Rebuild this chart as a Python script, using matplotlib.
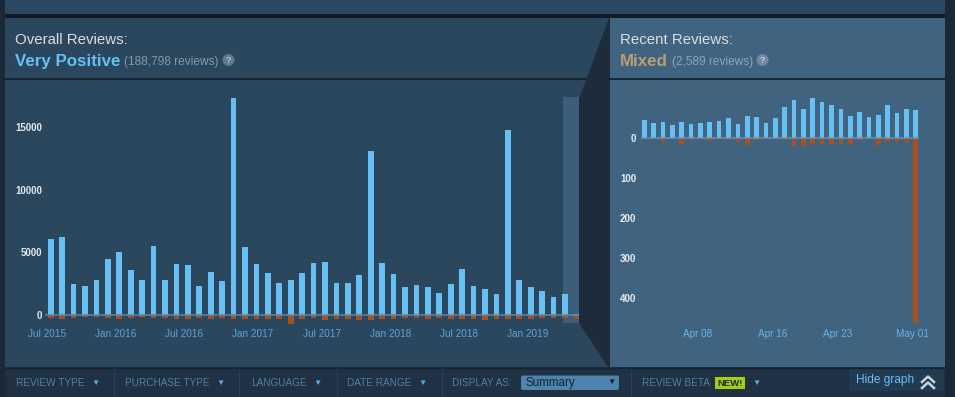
import matplotlib
matplotlib.use("Agg")
import matplotlib.pyplot as plt
from matplotlib.patches import Rectangle, Polygon, Circle, FancyBboxPatch

plt.rcParams['font.family'] = ['Liberation Sans', 'DejaVu Sans']

W, H = 955, 397

# ---- data ----
month_ticks = [0, 6, 12, 18, 24, 30, 36, 42]
month_labels = ['Jul 2015', 'Jan 2016', 'Jul 2016', 'Jan 2017',
                'Jul 2017', 'Jan 2018', 'Jul 2018', 'Jan 2019']
overall_pos = [6040, 6200, 2450, 2340, 2790, 4470, 5000, 3560, 2790, 5530,
               2790, 4070, 3960, 2290, 3430, 2710, 17280, 5450, 4040, 3320,
               2580, 2790, 3320, 4120, 4200, 2530, 2580, 3190, 13100, 4120,
               3270, 2210, 2370, 2260, 1780, 2450, 3690, 2290, 2070, 1650,
               14730, 2790, 2260, 1890, 1440, 1680, 60]
overall_neg = [266, 346, 213, 186, 186, 240, 293, 213, 186, 240,
               240, 320, 320, 213, 293, 240, 293, 346, 346, 320,
               293, 720, 320, 266, 400, 320, 320, 400, 400, 346,
               293, 266, 266, 320, 266, 293, 346, 320, 400, 293,
               293, 320, 293, 213, 266, 266, 300]
overall_yticks = [0, 5000, 10000, 15000]

day_ticks = [6, 14, 21, 29]
day_labels = ['Apr 08', 'Apr 16', 'Apr 23', 'May 01']
recent_pos = [44, 36, 38, 31, 38, 33, 37, 39, 41, 48, 33, 54, 50, 35, 48,
              75, 93, 72, 98, 89, 82, 70, 54, 64, 52, 56, 82, 60, 72, 68]
recent_neg = [2, 4, 11, 2, 17, 6, 4, 8, 3, 5, 11, 19, 7, 3, 4,
              5, 21, 21, 17, 16, 16, 16, 17, 6, 4, 19, 11, 11, 11, 462]
recent_yticks = [0, 100, 200, 300, 400]

BLUE = '#66c0f4'
RED = '#a8501f'
LEFT_BG = '#2a475e'
RIGHT_BG = '#406380'
DARK = '#1b2838'


def px_axes(fig, x0, y0, x1, y1):
    return fig.add_axes([x0 / W, 1 - y1 / H, (x1 - x0) / W, (y1 - y0) / H])


fig = plt.figure(figsize=(W / 100, H / 100), dpi=100, facecolor=DARK)

# background / chrome drawn in pixel coordinates
bg = fig.add_axes([0, 0, 1, 1])
bg.set_xlim(0, W)
bg.set_ylim(H, 0)
bg.axis('off')

bg.add_patch(Rectangle((5, 0), 940, 14, color='#2b4862', lw=0))
bg.add_patch(Rectangle((5, 14), 940, 4, color='#101b27', lw=0))
bg.add_patch(Rectangle((5, 18), 605, 349, color=LEFT_BG, lw=0))
bg.add_patch(Rectangle((610, 18), 335, 349, color=RIGHT_BG, lw=0))
bg.add_patch(Polygon([(579, 99), (609, 18), (610, 18), (610, 367),
                      (608, 367), (579, 323)], closed=True,
                     color='#1e2b3a', lw=0))
bg.plot([5, 586], [79, 79], color='#16212d', lw=1.3)
bg.plot([610, 945], [79, 79], color='#16212d', lw=1.3)

# headers
bg.text(15, 40, 'Overall Reviews:', fontsize=10.8, color='#dcdedf', va='center')
bg.text(15, 66, 'Very Positive', fontsize=12.2, color=BLUE, weight='bold', va='baseline')
bg.text(124, 65.5, '(188,798 reviews)', fontsize=8.6, color='#8199ab', va='baseline')
bg.add_patch(Circle((228.5, 60), 6, color='#62788b', lw=0))
bg.text(228.5, 60.5, '?', fontsize=6.5, color='#b8c6d1', weight='bold', ha='center', va='center')

bg.text(620, 40, 'Recent Reviews:', fontsize=10.8, color='#dcdedf', va='center')
bg.text(620, 66, 'Mixed', fontsize=12.2, color='#b9a074', weight='bold', va='baseline')
bg.text(672, 65.5, '(2,589 reviews)', fontsize=8.6, color='#8da6b9', va='baseline')
bg.add_patch(Circle((762.5, 60), 6, color='#7088a0', lw=0))
bg.text(762.5, 60.5, '?', fontsize=6.5, color='#c6d4df', weight='bold', ha='center', va='center')

# toolbar
bg.add_patch(Rectangle((5, 367), 940, 30, color='#1f3142', lw=0))
bg.plot([5, 945], [368, 368], color='#172432', lw=1)
for sx in [114, 239, 337, 442, 631]:
    bg.plot([sx, sx], [370, 397], color='#2c4054', lw=0.8)
lab_col = '#4f7fa8'
tri_col = '#5aaae3'
for tx, label, trx in [(16, 'REVIEW TYPE', 95), (125, 'PURCHASE TYPE', 220),
                       (251, 'LANGUAGE', 317), (347, 'DATE RANGE', 422)]:
    bg.text(tx, 383, label, fontsize=7.2, color=lab_col, va='center')
    bg.text(trx, 383, '▼', fontsize=6, color=tri_col, va='center', ha='center')
bg.text(452, 383, 'DISPLAY AS:', fontsize=7.2, color=lab_col, va='center')
bg.add_patch(FancyBboxPatch((521, 375.5), 98, 14.5, boxstyle='round,pad=0,rounding_size=2',
                            color='#4d84ae', lw=0))
bg.text(525, 383, 'Summary', fontsize=8.4, color='#172230', va='center')
bg.text(611, 382.5, '▼', fontsize=6, color='#111a24', va='center', ha='center')
bg.text(642, 383, 'REVIEW BETA', fontsize=7.2, color=lab_col, va='center')
bg.add_patch(Rectangle((715, 377), 30, 12, color='#a4d007', lw=0))
bg.text(730, 383.3, 'NEW!', fontsize=6.8, color='#1b2838', weight='bold', va='center', ha='center')
bg.text(756, 383, '▼', fontsize=6, color=tri_col, va='center', ha='center')
bg.add_patch(Rectangle((849, 368), 95, 23, color='#233b51', lw=0))
bg.text(856, 380, 'Hide graph', fontsize=8.6, color=BLUE, va='center')
bg.plot([922, 928, 934], [382, 376.5, 382], color='#c6d4df', lw=1.8)
bg.plot([922, 928, 934], [388, 382.5, 388], color='#c6d4df', lw=1.8)

# ---- overall chart ----
ax = px_axes(fig, 45, 97, 579, 323)
ax.set_facecolor('none')
idx = list(range(len(overall_pos)))
ax.axvspan(44.8, 46.22, color='#3d5e7b', lw=0, zorder=0)
ax.bar(idx, overall_pos, width=0.5, color=BLUE, zorder=2)
ax.bar(idx, [-v for v in overall_neg], width=0.5, color=RED, zorder=2, clip_on=False)
ax.axhline(0, color='#5f86a8', lw=1.1, zorder=3)
ax.set_xlim(-0.5, 46.22)
ax.set_ylim(-638, 17384)
ax.set_yticks(overall_yticks)
ax.set_yticklabels([str(v) for v in overall_yticks], weight='bold')
ax.set_xticks([t - 0.3 for t in month_ticks])
ax.set_xticklabels(month_labels)
ax.tick_params(axis='y', length=0, pad=2.2, labelsize=7, labelcolor='#e2e8ed')
ax.tick_params(axis='x', length=0, pad=4.5, labelsize=7.2, labelcolor='#5fa3d6')
for s in ax.spines.values():
    s.set_visible(False)

# ---- recent chart ----
ax2 = px_axes(fig, 641, 90, 919, 326)
ax2.set_facecolor('none')
didx = list(range(len(recent_pos)))
ax2.bar(didx, recent_pos, width=0.5, color=BLUE, zorder=2)
ax2.bar(didx, [-v for v in recent_neg], width=0.5, color=RED, zorder=2, clip_on=False)
ax2.axhline(0, color='#6a93b5', lw=1.1, zorder=3)
ax2.set_xlim(-0.35, 29.35)
ax2.set_ylim(-(326 - 137.5) / 0.402, (137.5 - 90) / 0.402)
ax2.set_yticks([-v for v in recent_yticks])
ax2.set_yticklabels([str(v) for v in recent_yticks], weight='bold')
ax2.set_xticks([t - 0.3 for t in day_ticks])
ax2.set_xticklabels(day_labels)
ax2.tick_params(axis='y', length=0, pad=3.6, labelsize=7, labelcolor='#e8eef2')
ax2.tick_params(axis='x', length=0, pad=2.5, labelsize=7.2, labelcolor='#6ab4e6')
for s in ax2.spines.values():
    s.set_visible(False)

fig.savefig('out.png', dpi=100, facecolor=fig.get_facecolor())
